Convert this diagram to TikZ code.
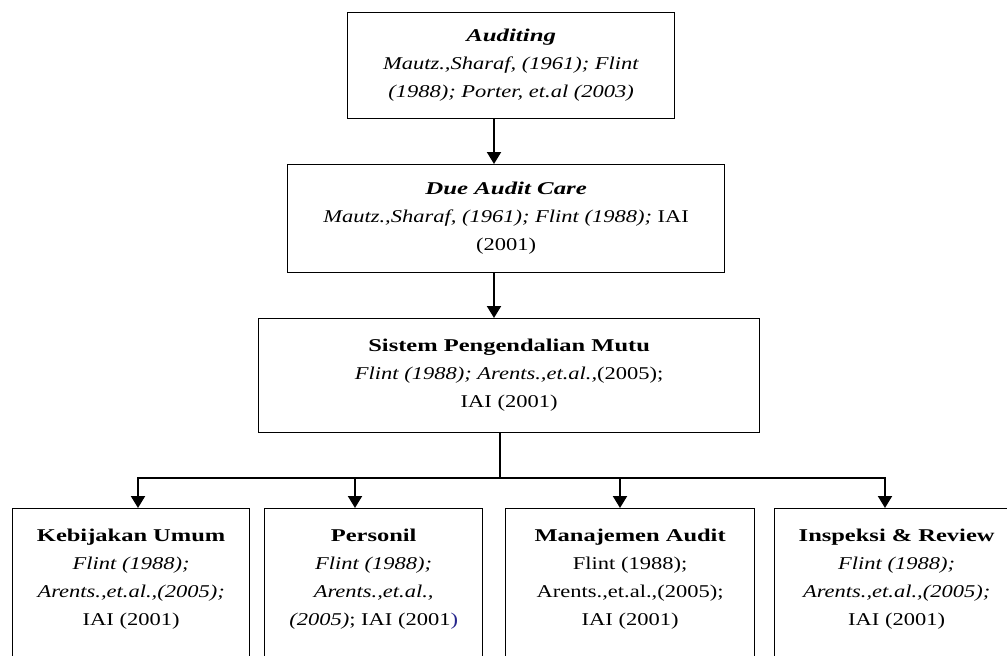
\documentclass[tikz,border=0pt]{standalone}
\usepackage{fontspec}
\setmainfont{Liberation Serif}[
  UprightFeatures={FakeStretch=1.25},
  ItalicFeatures={FakeStretch=1.25},
  BoldFeatures={FakeStretch=1.36},
  BoldItalicFeatures={FakeStretch=1.38}]
\usepackage{xcolor}
\usetikzlibrary{arrows.meta,calc}
\definecolor{refblue}{rgb}{0.15,0.15,0.55}

\tikzset{
  box/.style={draw,line width=1.3pt,align=center,inner sep=4pt,
    font=\fontsize{18}{28}\selectfont},
  leaf/.style={box,anchor=north west,inner ysep=20pt},
  arr/.style={line width=2pt,-{Triangle[width=14pt,length=12pt]}},
  link/.style={line width=2pt}
}
\newcommand{\leaftext}[1]{\begin{minipage}[t][200pt][t]{200pt}\centering #1\end{minipage}}

\begin{document}
\begin{tikzpicture}[x=1pt,y=-1pt]
\useasboundingbox (0,0) rectangle (1007,656);
\clip (0,0) rectangle (1007,656);

% upper chain
\node[box,anchor=north west,minimum width=327pt,minimum height=106pt] (aud) at (347,12)
  {\textbf{\textit{Auditing}}\\ \textit{Mautz.,Sharaf, (1961); Flint}\\ \textit{(1988); Porter, et.al (2003)}};
\node[box,anchor=north west,minimum width=437pt,minimum height=108pt] (due) at (287,164)
  {\textbf{\textit{Due Audit Care}}\\ \textit{Mautz.,Sharaf, (1961); Flint (1988);} IAI\\ (2001)};
\node[box,anchor=north west,minimum width=501pt,minimum height=114pt] (mutu) at (258,318)
  {\textbf{Sistem Pengendalian Mutu}\\ \textit{Flint (1988); Arents.,et.al.,}(2005);\\ IAI (2001)};

% lower row
\node[leaf,minimum width=237pt] (keb) at (12,508)
  {\leaftext{\textbf{Kebijakan Umum}\\ \textit{Flint (1988);}\\ \textit{Arents.,et.al.,(2005);}\\ IAI (2001)}};
\node[leaf,minimum width=218pt] (per) at (264,508)
  {\leaftext{\textbf{Personil}\\ \textit{Flint (1988);}\\ \textit{Arents.,et.al.,}\\ \textit{(2005)}; IAI (2001\textcolor{refblue}{)}}};
\node[leaf,minimum width=249pt] (man) at (505,508)
  {\leaftext{\textbf{Manajemen Audit}\\ Flint (1988);\\ Arents.,et.al.,(2005);\\ IAI (2001)}};
\node[leaf,minimum width=244pt] (ins) at (774,508)
  {\leaftext{\textbf{Inspeksi \& Review}\\ \textit{Flint (1988);}\\ \textit{Arents.,et.al.,(2005);}\\ IAI (2001)}};

% connectors
\coordinate (axis) at (494,0);
\coordinate (split) at (500,478);
\draw[arr] (aud.south -| axis) -- (due.north -| axis);
\draw[arr] (due.south -| axis) -- (mutu.north -| axis);
\draw[link] (mutu.south -| split) -- (split);
\foreach \n/\x in {keb/138,per/355,man/620,ins/885}{
  \coordinate (t\n) at (\x,478);
  \draw[arr] (t\n) -- (\n.north -| t\n);
}
\draw[link] ([xshift=-1pt]tkeb) -- ([xshift=1pt]tins);
\end{tikzpicture}
\end{document}
